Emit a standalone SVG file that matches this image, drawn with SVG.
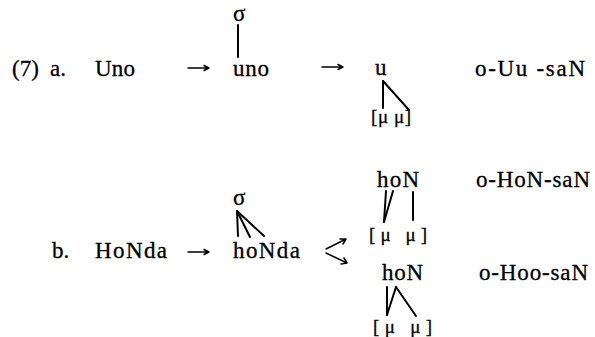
<svg xmlns="http://www.w3.org/2000/svg" width="595" height="337" viewBox="0 0 595 337" font-family="'Liberation Serif', 'DejaVu Serif', serif">
<style>
text{font-family:'Liberation Serif','DejaVu Serif',serif;fill:#000;font-size:23px;stroke:#000;stroke-width:0.3}
.mu{font-size:19px}
.ln{stroke:#000;stroke-width:2;fill:none;stroke-linecap:round}
.ar{stroke:#000;stroke-width:1.5;fill:none;stroke-linecap:round;stroke-linejoin:round}
</style>
<rect width="595" height="337" fill="#fff"/>
<g id="labels">
<text x="12" y="76">(7)</text>
<text x="50" y="76">a.</text>
<text x="52" y="258">b.</text>
</g>
<g id="node-a1"><text x="95" y="76" textLength="40" lengthAdjust="spacing">Uno</text></g>
<g id="node-a2">
<text x="233" y="21">σ</text>
<text x="233" y="76" textLength="36" lengthAdjust="spacing">uno</text>
</g>
<g id="node-a3">
<text x="375" y="75">u</text>
<text class="mu" x="371" y="123" textLength="40" lengthAdjust="spacing">[μ μ]</text>
</g>
<g id="node-a4"><text x="475" y="76" textLength="110" lengthAdjust="spacing">o-Uu -saN</text></g>
<g id="node-b1"><text x="95" y="258" textLength="72" lengthAdjust="spacing">HoNda</text></g>
<g id="node-b2">
<text x="233" y="205">σ</text>
<text x="233" y="258" textLength="67" lengthAdjust="spacing">hoNda</text>
</g>
<g id="node-b3">
<text x="377" y="187" textLength="42" lengthAdjust="spacing">hoN</text>
<text class="mu" x="369" y="241" textLength="58" lengthAdjust="spacing">[μ   μ]</text>
</g>
<g id="node-b4"><text x="476" y="187" textLength="114" lengthAdjust="spacing">o-HoN-saN</text></g>
<g id="node-b5">
<text x="382" y="280" textLength="41" lengthAdjust="spacing">hoN</text>
<text class="mu" x="373" y="333" textLength="59" lengthAdjust="spacing">[μ   μ]</text>
</g>
<g id="node-b6"><text x="479" y="280" textLength="109" lengthAdjust="spacing">o-Hoo-saN</text></g>
<g id="connectors">
<line class="ln" x1="238" y1="25" x2="238" y2="57"/>
<line class="ln" x1="383" y1="81" x2="383" y2="108"/>
<line class="ln" x1="383" y1="81" x2="409" y2="110"/>
<line class="ln" x1="237" y1="211" x2="238" y2="236"/>
<line class="ln" x1="237" y1="211" x2="250" y2="237"/>
<line class="ln" x1="237" y1="211" x2="264" y2="236"/>
<line class="ln" x1="386" y1="191" x2="384" y2="222"/>
<line class="ln" x1="393" y1="191" x2="384" y2="222"/>
<line class="ln" x1="413" y1="192" x2="413" y2="220"/>
<line class="ln" x1="387" y1="287" x2="387" y2="315"/>
<line class="ln" x1="396" y1="287" x2="387" y2="315"/>
<line class="ln" x1="396" y1="287" x2="416" y2="316"/>
<path class="ar" d="M188 68H209M204 65.5L209 68L204 70.5"/>
<path class="ar" d="M322 67H343M338 64.5L343 67L338 69.5"/>
<path class="ar" d="M188 252H209M204 249.5L209 252L204 254.5"/>
<path class="ar" d="M326 249L346 239M340 239L346 239L343 244"/>
<path class="ar" d="M326 253L347 263M344 258L347 263L341 264"/>
</g>
</svg>
